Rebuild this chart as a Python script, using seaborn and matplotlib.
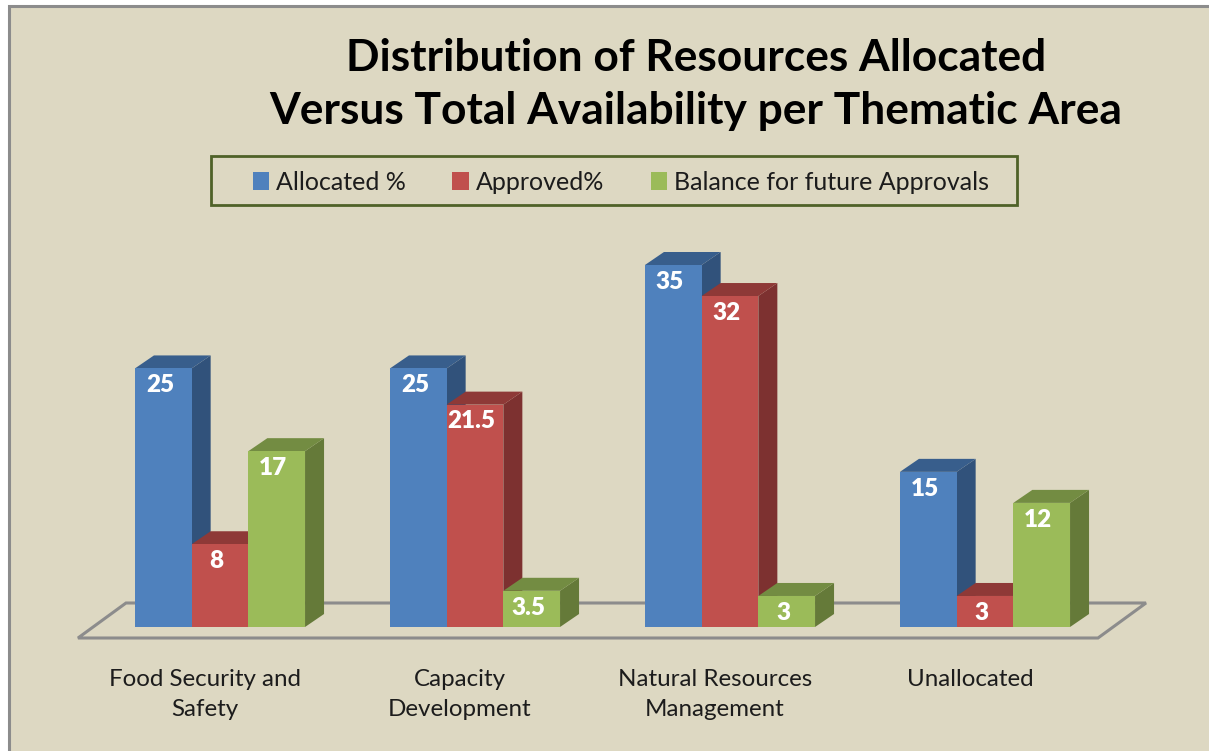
import matplotlib
matplotlib.use("Agg")
import matplotlib.pyplot as plt
from matplotlib.patches import Polygon, Rectangle
from matplotlib.transforms import ScaledTranslation
import pandas as pd
import seaborn as sns

categories = ["Food Security and\nSafety", "Capacity\nDevelopment",
              "Natural Resources\nManagement", "Unallocated"]
allocated = [25, 25, 35, 15]
approved = [8, 21.5, 32, 3]
balance = [17, 3.5, 3, 12]
series_names = ["Allocated %", "Approved%", "Balance for future Approvals"]
title = "Distribution of Resources Allocated\nVersus Total Availability per Thematic Area"

front_colors = ["#4F81BD", "#C0504D", "#9BBB59"]
side_colors = ["#31527B", "#7D3130", "#657A39"]
top_colors = ["#385E8C", "#8E3937", "#738C42"]
BG = "#DDD8C2"
W, H = 1209, 751

df = pd.DataFrame({"cat": categories * 3,
                   "val": allocated + approved + balance,
                   "series": sum([[s] * 4 for s in series_names], [])})

sns.set_theme(style="white")
plt.rcParams["font.family"] = ["Lato", "DejaVu Sans"]
fig = plt.figure(figsize=(W / 100, H / 100), dpi=100, facecolor="white")
fig.add_artist(Rectangle((9 / W, -0.1), 1.2, (751 - 6) / 751 + 0.1, transform=fig.transFigure,
                         facecolor=BG, edgecolor="#8C8C8C", linewidth=2.2, zorder=-5))
# legend frame
fig.add_artist(Rectangle((210.5 / W, (H - 205) / H), 806 / W, 49 / H, transform=fig.transFigure,
                         facecolor="none", edgecolor="#4F6228", linewidth=2, zorder=-4))

ax = fig.add_axes([92.5 / W, (H - 627) / H, 1020 / W, 362 / H])
ax.patch.set_alpha(0)
sns.barplot(data=df, x="cat", y="val", hue="series", hue_order=series_names,
            palette=front_colors, saturation=1, width=0.667, gap=0, ax=ax, linewidth=0)
ax.set_xlim(-0.5, 3.5)
ax.set_ylim(0, 35)
ax.set_xlabel("")
ax.set_ylabel("")
ax.set_yticks([])
for s in ax.spines.values():
    s.set_visible(False)

# pixel-to-data factors for the oblique depth
ux = 4 / 1020
uy = 35 / 362
dx, dy = 19 * ux, 13 * uy

# floor
f_front, f_back = -11 * uy, 24 * uy
floor = Polygon([(-0.5 - 14.5 * ux, f_front), (3.5 - 14.5 * ux, f_front),
                 (3.5 + 33.5 * ux, f_back), (-0.5 + 33.5 * ux, f_back)],
                closed=True, facecolor="none", edgecolor="#8C8C8C", linewidth=2.2,
                clip_on=False, zorder=0.5)
ax.add_patch(floor)

for i, cont in enumerate(ax.containers):
    for bar in cont:
        x0, w, h = bar.get_x(), bar.get_width(), bar.get_height()
        x1 = x0 + w
        bar.set_zorder(2 + 2 * i)
        bar.set_clip_on(False)
        ax.add_patch(Polygon([(x1, 0), (x1 + dx, dy), (x1 + dx, h + dy), (x1, h)],
                             facecolor=side_colors[i], edgecolor="none",
                             clip_on=False, zorder=1 + 2 * i))
        ax.add_patch(Polygon([(x0, h), (x0 + dx, h + dy), (x1 + dx, h + dy), (x1, h)],
                             facecolor=top_colors[i], edgecolor="none",
                             clip_on=False, zorder=1 + 2 * i))
    anns = ax.bar_label(cont, fmt="%g", padding=-20, color="white", fontsize=17.5,
                        fontweight="heavy", zorder=20)
    for a in anns:
        xa, ya = a.xyann
        a.xyann = (xa - 2.5, ya)

# tick labels
ax.tick_params(axis="x", length=0, pad=0)
ax.set_xticks(range(4))
ax.set_xticklabels(categories, fontsize=17.4, color="#1c1c1c", linespacing=1.52, va="top")
shift = ScaledTranslation(-15 / 100, -42 / 100, fig.dpi_scale_trans)
for t in ax.get_xticklabels():
    t.set_transform(t.get_transform() + shift)

# legend
handles, labels = ax.get_legend_handles_labels()
ax.get_legend().remove()
leg = fig.legend(handles, labels, loc="center", ncol=3,
                 bbox_to_anchor=(621 / W, (H - 182) / H),
                 fontsize=18, frameon=False, handlelength=0.65, handleheight=0.7,
                 handletextpad=0.3, columnspacing=1.85, borderpad=0, borderaxespad=0,
                 labelcolor="#1c1c1c")

fig.text(696 / W, (H - 84.5) / H, title, ha="center", va="center", fontsize=31.85,
         fontweight="bold", color="black", linespacing=1.42)

fig.savefig("out.png", dpi=100, facecolor=fig.get_facecolor())
